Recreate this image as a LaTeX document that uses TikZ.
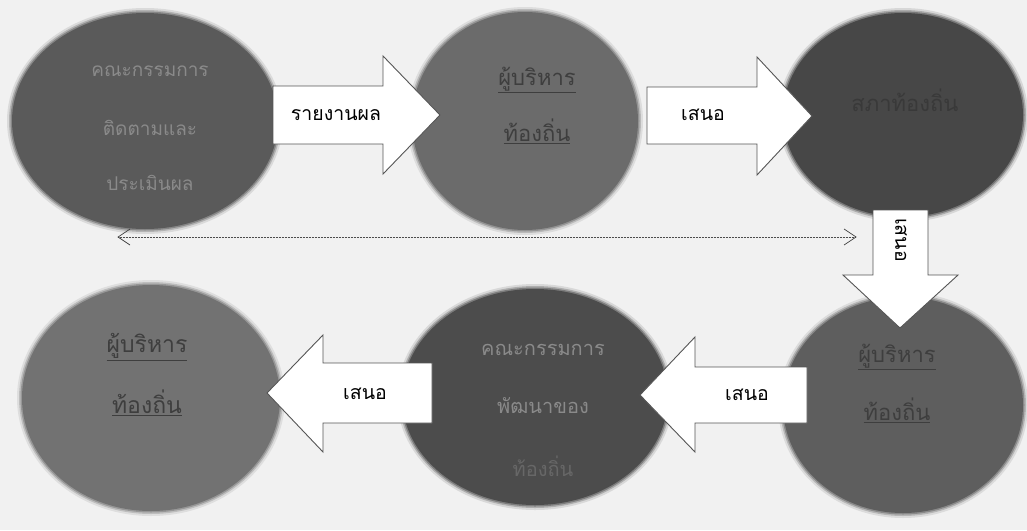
\documentclass[tikz,border=0pt]{standalone}
\usepackage{fontspec}
\newfontfamily\thai[Script=Thai]{Loma}
\usetikzlibrary{shapes.geometric,arrows.meta}
\definecolor{bg}{HTML}{F1F1F1}
\definecolor{cA}{HTML}{5A5A5A}
\definecolor{cB}{HTML}{6B6B6B}
\definecolor{cC}{HTML}{474747}
\definecolor{cD}{HTML}{5E5E5E}
\definecolor{cE}{HTML}{4C4C4C}
\definecolor{cF}{HTML}{727272}
\definecolor{tlight}{HTML}{8A8A8A}
\definecolor{tdark}{HTML}{3E3E3E}
\definecolor{tfaint}{HTML}{393939}
\definecolor{edge}{HTML}{555555}
\tikzset{
  x=1pt,y=-1pt,
  blob/.style={ellipse,inner sep=0pt},
  ctext/.style={font=\thai\fontsize{19}{22}\selectfont,inner sep=0pt},
  cbig/.style={font=\thai\fontsize{22}{25}\selectfont,inner sep=0pt},
  blockarrow/.style={draw=edge,line width=0.9pt,fill=white,line join=miter},
  alabel/.style={font=\thai\fontsize{19.5}{22}\selectfont,text=black,inner sep=0pt},
  dotline/.style={draw=black!70,line width=0.5pt,densely dotted}
}
\newcommand{\softblob}[6]{% name, x, y, rx, ry, colour
  \fill[#6,opacity=0.15] (#2,#3) ellipse [x radius=#4+5, y radius=#5+5];
  \fill[#6,opacity=0.3] (#2,#3) ellipse [x radius=#4+3, y radius=#5+3];
  \fill[#6,opacity=0.5] (#2,#3) ellipse [x radius=#4+1.5, y radius=#5+1.5];
  \node[blob,fill=#6,minimum width=2*#4pt,minimum height=2*#5pt] (#1) at (#2,#3) {};
}
\begin{document}
\begin{tikzpicture}
\useasboundingbox[fill=bg] (0,0) rectangle (1027,530);

% circles
\softblob{c1}{145}{121}{133}{108}{cA}
\softblob{c2}{525}{121}{113}{109}{cB}
\softblob{c3}{903}{115}{120}{102}{cC}
\softblob{c4}{903}{405}{120}{108}{cD}
\softblob{c5}{535}{397}{133}{108}{cE}
\softblob{c6}{151}{398}{129}{113}{cF}

% circle texts
\node[ctext,text=tlight] (t1a) at (150,71) {คณะกรรมการ};
\node[ctext,text=tlight] (t1b) at (150,128) {ติดตามและ};
\node[ctext,text=tlight] (t1c) at (150,183) {ประเมินผล};

\node[cbig,text=tdark] (t2a) at (537,80) {\underline{ผู้บริหาร}};
\node[cbig,text=tdark] (t2b) at (537,131) {\underline{ท้องถิ่น}};

\node[cbig,text=tfaint] (t3a) at (905,100) {สภาท้องถิ่น};

\node[cbig,text=tdark] (t4a) at (897,357) {\underline{ผู้บริหาร}};
\node[cbig,text=tdark] (t4b) at (897,410) {\underline{ท้องถิ่น}};

\node[ctext,font=\thai\fontsize{20}{23}\selectfont,text=tlight] (t5a) at (543,350) {คณะกรรมการ};
\node[ctext,font=\thai\fontsize{20}{23}\selectfont,text=tlight] (t5b) at (543,406) {พัฒนาของ};
\node[ctext,font=\thai\fontsize{20}{23}\selectfont,text=cE!85!white] (t5c) at (543,466) {ท้องถิ่น};

\node[cbig,font=\thai\fontsize{23}{26}\selectfont,text=tdark] (t6a) at (147,347) {\underline{ผู้บริหาร}};
\node[cbig,font=\thai\fontsize{23}{26}\selectfont,text=tdark] (t6b) at (147,403) {\underline{ท้องถิ่น}};

% block arrows
\draw[blockarrow] (273,86) -- (383,86) -- (383,56) -- (440,115) -- (383,174) -- (383,144) -- (273,144) -- cycle;
\node[alabel] (l1) at (336,115) {รายงานผล};

\draw[blockarrow] (647,87) -- (757,87) -- (757,57) -- (812,116) -- (757,175) -- (757,144) -- (647,144) -- cycle;
\node[alabel] (l2) at (703,115) {เสนอ};

\draw[blockarrow] (873,210) -- (873,275) -- (843,275) -- (900,328) -- (958,275) -- (928,275) -- (928,210) -- cycle;
\node[alabel,rotate=-90] (l3) at (901,240) {เสนอ};

\draw[blockarrow] (807,367) -- (695,367) -- (695,337) -- (640,395) -- (695,452) -- (695,423) -- (807,423) -- cycle;
\node[alabel] (l4) at (747,395) {เสนอ};

\draw[blockarrow] (432,363) -- (323,363) -- (323,335) -- (267,393) -- (323,452) -- (323,423) -- (432,423) -- cycle;
\node[alabel] (l5) at (365,394) {เสนอ};

% dotted double arrow
\coordinate (dL) at (118,237);
\coordinate (dR) at (856,237);
\draw[dotline] (dL) -- (dR);
\draw[draw=black!75,line width=0.7pt] (dL) ++(12,-8) -- (dL) -- ++(12,8);
\draw[draw=black!75,line width=0.7pt] (dR) ++(-12,-8) -- (dR) -- ++(-12,8);
\end{tikzpicture}
\end{document}
